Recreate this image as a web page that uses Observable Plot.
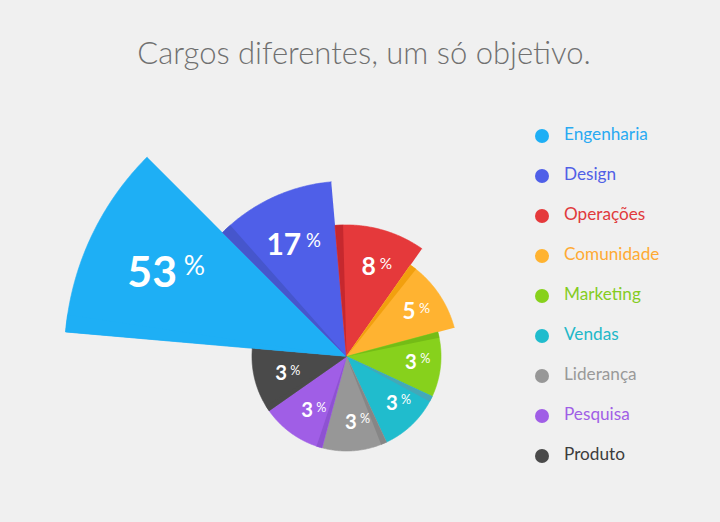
<!DOCTYPE html>
<html><head><meta charset="utf-8">
<script src="https://cdn.jsdelivr.net/npm/d3@7"></script>
<script src="https://cdn.jsdelivr.net/npm/@observablehq/plot@0.6"></script>
<style>
body{margin:0;background:#f0f0f0;font-family:Lato,"Open Sans",sans-serif;}
#wrap{position:relative;width:720px;height:522px;overflow:hidden;background:#f0f0f0}
#chart{position:absolute;left:0;top:0}
#title{position:absolute;left:0;width:728px;top:37px;text-align:center;font-size:31px;line-height:31px;font-weight:300;color:#707070;white-space:nowrap}
#legend{position:absolute;left:535px;top:114px}
.row{display:flex;align-items:center;height:40px}
.dot{width:14px;height:14px;border-radius:50%;margin-right:15px;margin-top:3px;flex:none}
.lab{font-size:17.2px;line-height:20px;white-space:nowrap}
</style></head><body>
<div id="wrap"><div id="chart"></div><div id="title">Cargos diferentes, um só objetivo.</div><div id="legend"></div></div>
<script>
const categories = ["Engenharia","Design","Operações","Comunidade","Marketing","Vendas","Liderança","Pesquisa","Produto"];
const percents = [53,17,8,5,3,3,3,3,3];
const colors = ["#1eaff5","#4f5fe8","#e5393b","#ffb331","#87d11c","#20bccd","#979797","#a05ee6","#4a4a4a"];
const shadeColors = ["#1eaff5","#4656cc","#c6282e","#f2a00e","#74bc16","#44a8b8","#868686","#8e52d2","#4a4a4a"];
const legendTextColors = ["#29aaf2","#5060e6","#e03a3c","#ffaa33","#85cc1f","#22b8c8","#999999","#a05ee6","#3c3c3c"];

const startDeg = 275, sweepDeg = 40, shadeDeg = 3.5;
const rad = d => d * Math.PI / 180;
const rScale = Plot.scale({r: {type: "sqrt", domain: [0, 53], range: [36, 282]}});

const wedges = [], shades = [], nums = [], pcts = [];
categories.forEach((c, i) => {
  const a0 = startDeg + i * sweepDeg, a1 = a0 + sweepDeg;
  const R = rScale.apply(percents[i]);
  const w = [{k: c, x: 0, y: 0, fill: colors[i]}];
  for (let a = a0; a <= a1 + 1e-9; a += 0.5) w.push({k: c, x: R * Math.sin(rad(a)), y: R * Math.cos(rad(a)), fill: colors[i]});
  wedges.push(...w);
  const s = [{k: c + "-s", x: 0, y: 0, fill: shadeColors[i]}];
  for (let a = a0; a <= a0 + shadeDeg + 1e-9; a += 0.5) s.push({k: c + "-s", x: R * Math.sin(rad(a)), y: R * Math.cos(rad(a)), fill: shadeColors[i]});
  shades.push(...s);
  const m = a0 + sweepDeg / 2, L = 0.70 * R, F = 9 + 0.12 * R;
  const lx = L * Math.sin(rad(m)), ly = L * Math.cos(rad(m));
  nums.push({x: lx + 0.22 * F, y: ly, t: String(percents[i]), fs: F});
  pcts.push({x: lx + 0.38 * F, y: ly + 0.15 * F, t: "%", fs: 0.62 * F});
});

const plot = Plot.plot({
  width: 720, height: 522, margin: 0,
  x: {domain: [-346, 374], axis: null},
  y: {domain: [-166, 356], axis: null},
  color: {type: "identity"},
  style: {background: "transparent", overflow: "visible"},
  marks: [
    Plot.line(wedges, {x: "x", y: "y", z: "k", fill: "fill", stroke: "fill", strokeWidth: 0.6, curve: "linear"}),
    Plot.line(shades, {x: "x", y: "y", z: "k", fill: "fill", stroke: "fill", strokeWidth: 0.3, curve: "linear"}),
    Plot.text(nums, {x: "x", y: "y", text: "t", fontSize: d => d.fs, textAnchor: "end", lineAnchor: "middle", fill: "white", fontWeight: 700, fontFamily: "Lato"}),
    Plot.text(pcts, {x: "x", y: "y", text: "t", fontSize: d => d.fs, textAnchor: "start", lineAnchor: "middle", fill: "white", fontWeight: 400, fontFamily: "Lato"})
  ]
});
document.getElementById("chart").appendChild(plot);

const legend = document.getElementById("legend");
categories.forEach((c, i) => {
  const row = document.createElement("div"); row.className = "row";
  const dot = document.createElement("span"); dot.className = "dot"; dot.style.background = colors[i];
  const lab = document.createElement("span"); lab.className = "lab"; lab.style.color = legendTextColors[i]; lab.textContent = c;
  row.appendChild(dot); row.appendChild(lab); legend.appendChild(row);
});
</script>
</body></html>
